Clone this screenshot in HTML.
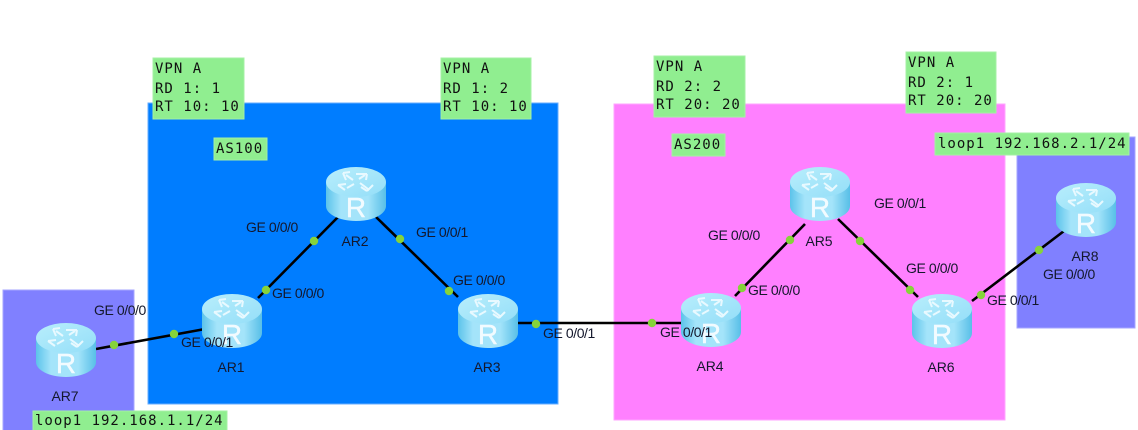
<!DOCTYPE html>
<html><head><meta charset="utf-8"><title>Network topology</title>
<style>html,body{margin:0;padding:0;background:#fff}svg{display:block}
.b{font:14px "Liberation Sans",sans-serif;fill:#14182c;letter-spacing:-.42px}
.n{font:14px "Liberation Sans",sans-serif;fill:#14182c;text-anchor:middle;letter-spacing:-.1px}
.m{font:14px "DejaVu Sans Mono","Liberation Mono",monospace;fill:#111;letter-spacing:1px}
.g{fill:#90ee90;stroke:#a5f0a5;stroke-width:1}
.l{stroke:#000;stroke-width:2.6;fill:none}
.d{fill:#86d33a}
.rt{font:28px "Liberation Sans",sans-serif;fill:#f2fbff;stroke:#f2fbff;stroke-width:.4;text-anchor:middle}
.ar{fill:none;stroke:#e8f9ff;stroke-width:2}
</style></head><body>
<svg width="1138" height="430" viewBox="0 0 1138 430" xmlns="http://www.w3.org/2000/svg">
<defs>
<linearGradient id="s" x1="0" x2="1" y1="0" y2="0"><stop offset="0" stop-color="#5cc3ea"/><stop offset=".25" stop-color="#a4e4fa"/><stop offset=".7" stop-color="#a4e4fa"/><stop offset="1" stop-color="#58bfe7"/></linearGradient>
<linearGradient id="t" x1="0" x2="1" y1="0" y2="1"><stop offset="0" stop-color="#b8eefc"/><stop offset="1" stop-color="#94def8"/></linearGradient>
<g id="r">
<path d="M0 15V39C0 47 13 54 30 54S60 47 60 39V15Z" fill="url(#s)"/>
<ellipse cx="30" cy="15" rx="30" ry="15" fill="url(#t)"/>
<g class="ar">
<path d="M27 13L20 8M17 6l7-1M17 6l3 7"/>
<path d="M33 12L39 8M30 7l11 0M41 7l-1 6"/>
<path d="M28 17L21 21M12 18l7 5M12 18l8-1"/>
<path d="M34 16L42 22M47 18l-6 6M41 24l-6-4"/>
</g>
<text class="rt" x="30" y="50">R</text>
</g>
</defs>
<rect x="3" y="290" width="131" height="145" fill="#8080ff" stroke="#a6a6ff"/>
<rect x="148" y="103" width="410" height="301" fill="#007dff" stroke="#66adff"/>
<rect x="614" y="104" width="391" height="316" fill="#ff80ff" stroke="#ffa6ff"/>
<rect x="1017" y="137" width="118" height="191" fill="#8080ff" stroke="#a6a6ff"/>

<path class="l" d="M96 349L205 329M258 298L338 217M376 217L458 297M518 323L684 323M735 296L805 224M838 219L918 297M972 301L1064 231"/>
<g class="d">
<circle cx="114" cy="345" r="4.2"/><circle cx="174" cy="334" r="4.2"/>
<circle cx="266" cy="290" r="4.2"/><circle cx="314" cy="241" r="4.2"/>
<circle cx="400" cy="239" r="4.2"/><circle cx="449" cy="291" r="4.2"/>
<circle cx="536" cy="324" r="4.2"/><circle cx="652" cy="323" r="4.2"/>
<circle cx="742" cy="288" r="4.2"/><circle cx="790" cy="240" r="4.2"/>
<circle cx="860" cy="241" r="4.2"/><circle cx="910" cy="290" r="4.2"/>
<circle cx="981" cy="295" r="4.2"/><circle cx="1039" cy="250" r="4.2"/>
</g>

<use href="#r" x="36" y="323"/>
<use href="#r" x="202" y="294"/>
<use href="#r" x="326" y="167"/>
<use href="#r" x="458" y="294"/>
<use href="#r" x="681" y="293"/>
<use href="#r" x="790" y="167"/>
<use href="#r" x="912" y="294"/>
<use href="#r" x="1056" y="183"/>

<text class="n" x="65" y="401">AR7</text>
<text class="n" x="231" y="372">AR1</text>
<text class="n" x="355" y="246">AR2</text>
<text class="n" x="487" y="372">AR3</text>
<text class="n" x="710" y="371">AR4</text>
<text class="n" x="819" y="246">AR5</text>
<text class="n" x="941" y="372">AR6</text>
<text class="n" x="1085" y="261">AR8</text>

<text class="b" x="94" y="315">GE 0/0/0</text>
<text class="b" x="181" y="347">GE 0/0/1</text>
<text class="b" x="272" y="298">GE 0/0/0</text>
<text class="b" x="246" y="232">GE 0/0/0</text>
<text class="b" x="416" y="237">GE 0/0/1</text>
<text class="b" x="453" y="285">GE 0/0/0</text>
<text class="b" x="543" y="338">GE 0/0/1</text>
<text class="b" x="660" y="337">GE 0/0/1</text>
<text class="b" x="748" y="295">GE 0/0/0</text>
<text class="b" x="708" y="240">GE 0/0/0</text>
<text class="b" x="874" y="208">GE 0/0/1</text>
<text class="b" x="906" y="273">GE 0/0/0</text>
<text class="b" x="987" y="305">GE 0/0/1</text>
<text class="b" x="1043" y="279">GE 0/0/0</text>

<rect class="g" x="153" y="58" width="91" height="61"/>
<rect class="g" x="441" y="58" width="90" height="61"/>
<rect class="g" x="654" y="56" width="91" height="61"/>
<rect class="g" x="906" y="52" width="90" height="61"/>
<rect class="g" x="214" y="138" width="53" height="22"/>
<rect class="g" x="672" y="134" width="53" height="22"/>
<rect class="g" x="935" y="133" width="194" height="22"/>
<rect class="g" x="33" y="411" width="194" height="22"/>

<g class="m">
<text x="155" y="73">VPN A</text><text x="155" y="93">RD 1: 1</text><text x="155" y="111">RT 10: 10</text>
<text x="443" y="73">VPN A</text><text x="443" y="93">RD 1: 2</text><text x="443" y="111">RT 10: 10</text>
<text x="656" y="71">VPN A</text><text x="656" y="91">RD 2: 2</text><text x="656" y="109">RT 20: 20</text>
<text x="908" y="67">VPN A</text><text x="908" y="87">RD 2: 1</text><text x="908" y="105">RT 20: 20</text>
<text x="216" y="153">AS100</text>
<text x="674" y="149">AS200</text>
<text x="938" y="148">loop1 192.168.2.1/24</text>
<text x="35" y="425">loop1 192.168.1.1/24</text>
</g>
</svg>
</body></html>
